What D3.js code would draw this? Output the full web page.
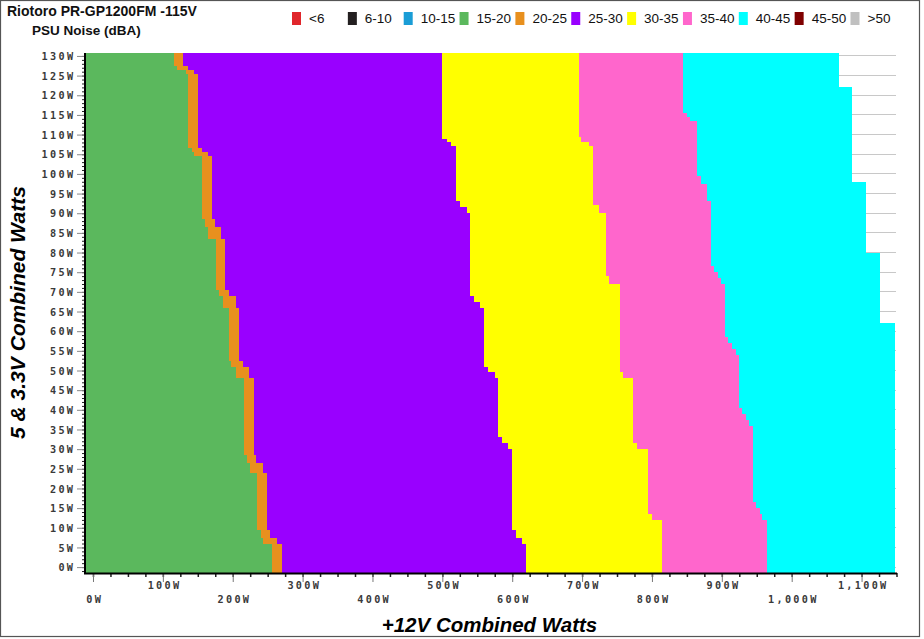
<!DOCTYPE html>
<html><head><meta charset="utf-8">
<script src="https://cdn.jsdelivr.net/npm/d3@7"></script>
<style>body{margin:0;background:#fff}svg{display:block}</style>
</head><body><svg id="c" width="924" height="639"></svg>
<script>
// ---- data ----
const bands = ['<6','6-10','10-15','15-20','20-25','25-30','30-35','35-40','40-45','45-50','>50'];
const bandColors = ['#e0262b','#231f20','#1a9dd6','#5bb85d','#e8901e','#9900ff','#ffff00','#ff66cc','#00ffff','#7f0000','#c0c0c0'];
const yTicks = d3.range(0, 131, 5);      // 5V & 3.3V combined watts
const xTicks = d3.range(0, 1101, 100);   // +12V combined watts
// right edge of each noise band: [5V&3.3V watts (upper bound of step), +12V watts]
const edge15to20 = [[130.75,116],[127.5,120],[126.5,133],[125.5,136],[106.5,141],[105.5,144],[104.5,156],[88.5,160],[86.5,165],[83.5,176],[70.5,181],[69,186],[66,195],[52.5,197.5],[51,205],[48,216],[28.5,221],[26.5,225],[24,235],[9.5,240],[7.5,244],[6,256]];
const edge20to25 = [[130.75,129],[127.5,136],[126.5,144],[125.5,150],[106.5,156],[105.5,164],[104.5,170],[88.5,175],[86.5,183],[83.5,189],[70.5,195],[69,204],[66,209],[52.5,214],[51,224],[48,230],[28.5,234],[26.5,244],[24,249],[9.5,254],[7.5,263],[6,270]];
const edge25to30 = [[130.75,500],[109,506],[108,513],[107,520],[93,525],[91.5,535],[90,540],[69,545],[67.5,554],[66,560],[51,565],[49.5,575],[48,580],[33,585],[31.5,594],[30,600],[9.5,605],[7.5,614],[6,620]];
const edge30to35 = [[130.75,695],[109.5,699],[108,710],[107,715],[92,724],[90,734],[74,739],[72,754],[49.5,759],[48,773],[31.5,779],[30,794],[13.5,800],[12,814]];
const edge35to40 = [[130.75,845],[115.5,850],[114.5,855],[113.5,865],[99.5,870],[97.5,879],[93,884],[76.5,889],[75,895],[73.5,899],[72,904],[58.5,909],[57,914],[55.5,920],[54,925],[40.5,929],[39,935],[37.5,939],[36,944],[16.5,949],[15,954],[13.5,958],[12,964]];
const edge40to45 = [[130.75,1068],[122,1087],[98,1107],[80,1127],[62,1148]];

// ---- drawing ----
const svg = d3.select('#c');
const X_LEFT = -10, Y_TOP = 130.75, Y_BOT = -1.5;
const x = d3.scaleLinear().domain([X_LEFT, 1150]).range([86, 896.5]);
const y = d3.scaleLinear().domain([Y_BOT, Y_TOP]).range([573, 53]);

svg.append('rect').attr('x',0.5).attr('y',0.5).attr('width',919).attr('height',636)
  .attr('fill','#fff').attr('stroke','#555').attr('stroke-width',1.2);

// gridlines
svg.append('g').selectAll('line').data(yTicks).join('line')
  .attr('x1', x(X_LEFT)).attr('x2', 896).attr('y1', d=>y(d)).attr('y2', d=>y(d))
  .attr('stroke','#c8c8c8').attr('stroke-width',1).attr('shape-rendering','crispEdges');

function stepPoly(edge){
  const pts = [[X_LEFT, Y_TOP]];
  edge.forEach((e,i)=>{
    const yb = i+1 < edge.length ? edge[i+1][0] : Y_BOT;
    pts.push([e[1], e[0]], [e[1], yb]);
  });
  pts.push([X_LEFT, Y_BOT]);
  return pts;
}
const line = d3.line().x(d=>x(d[0])).y(d=>y(d[1]));
const layers = [
  [edge40to45, 8], [edge35to40, 7], [edge30to35, 6],
  [edge25to30, 5], [edge20to25, 4], [edge15to20, 3]
];
svg.append('g').selectAll('path').data(layers).join('path')
  .attr('d', d=>line(stepPoly(d[0])) + 'Z')
  .attr('fill', d=>bandColors[d[1]])
  .attr('shape-rendering','crispEdges');

// axes
const LS = 2.3;
const tickFont = '"DejaVu Sans Mono", monospace';
// x minor
svg.append('g').attr('transform','translate(0,573)')
  .call(d3.axisBottom(x).tickValues(d3.range(0,1151,25)).tickSize(4).tickFormat(''))
  .call(g=>g.select('.domain').remove())
  .call(g=>g.selectAll('line').attr('stroke','#222').attr('stroke-width',1.5));
// x major
const xa = svg.append('g').attr('transform','translate(0,573)')
  .call(d3.axisBottom(x).tickValues(xTicks).tickSize(9).tickFormat(d=>d3.format(',')(d)+'W'))
  .call(g=>g.select('.domain').remove());
xa.selectAll('line').attr('stroke','#777').attr('stroke-width',1);
xa.selectAll('text')
  .attr('font-family', tickFont).attr('font-size', 10.2).attr('font-weight','bold').attr('letter-spacing', LS)
  .attr('fill','#3a3a3a').attr('dx', LS/2)
  .attr('y', (d,i)=> (d/100)%2 ? 15.5 : 29.5).attr('dy', 0);

// y minor
svg.append('g').attr('transform','translate(85,0)')
  .call(d3.axisLeft(y).tickValues(d3.range(-1,131,1)).tickSize(3).tickFormat(''))
  .call(g=>g.select('.domain').remove())
  .call(g=>g.selectAll('line').attr('stroke','#222').attr('stroke-width',1));
// y major
const ya = svg.append('g').attr('transform','translate(85,0)')
  .call(d3.axisLeft(y).tickValues(yTicks).tickSize(8).tickFormat(d=>d+'W'))
  .call(g=>g.select('.domain').remove());
ya.selectAll('line').attr('stroke','#888').attr('stroke-width',1);
ya.selectAll('text')
  .attr('font-family', tickFont).attr('font-size', 10.2).attr('font-weight','bold').attr('letter-spacing', LS)
  .attr('fill','#3a3a3a').attr('x', -12 + LS).attr('dy','0.35em');

// axis lines
svg.append('line').attr('x1',85).attr('x2',85).attr('y1',53).attr('y2',574)
  .attr('stroke','#000').attr('stroke-width',2);
svg.append('line').attr('x1',84).attr('x2',897).attr('y1',573.5).attr('y2',573.5)
  .attr('stroke','#000').attr('stroke-width',2);

// titles
svg.append('text').attr('x',7).attr('y',16).text('Riotoro PR-GP1200FM -115V')
  .attr('font-family','"Liberation Sans", Arial, sans-serif').attr('font-weight','bold').attr('font-size',14).attr('fill','#111');
svg.append('text').attr('x',32).attr('y',35).text('PSU Noise (dBA)')
  .attr('font-family','"Liberation Sans", Arial, sans-serif').attr('font-weight','bold').attr('font-size',13.5).attr('fill','#111');

svg.append('text').attr('x',489.5).attr('y',632).attr('text-anchor','middle')
  .text('+12V Combined Watts')
  .attr('font-family','"Liberation Sans", Arial, sans-serif').attr('font-weight','bold').attr('font-style','italic')
  .attr('font-size',20.5).attr('fill','#000');
svg.append('text').attr('transform','translate(25,312.5) rotate(-90)').attr('text-anchor','middle')
  .text('5 & 3.3V Combined Watts')
  .attr('font-family','"Liberation Sans", Arial, sans-serif').attr('font-weight','bold').attr('font-style','italic')
  .attr('font-size',21).attr('fill','#000');

// legend
const lg = svg.append('g').selectAll('g').data(bands).join('g')
  .attr('transform',(d,i)=>`translate(${292 + i*55.85},0)`);
lg.append('rect').attr('x',0).attr('y',12).attr('width',9).attr('height',13)
  .attr('fill',(d,i)=>bandColors[i]);
lg.append('text').attr('x',17).attr('y',23).text(d=>d)
  .attr('font-family','"Liberation Sans", Arial, sans-serif').attr('font-size',13.5).attr('fill','#111');
</script></body></html>
